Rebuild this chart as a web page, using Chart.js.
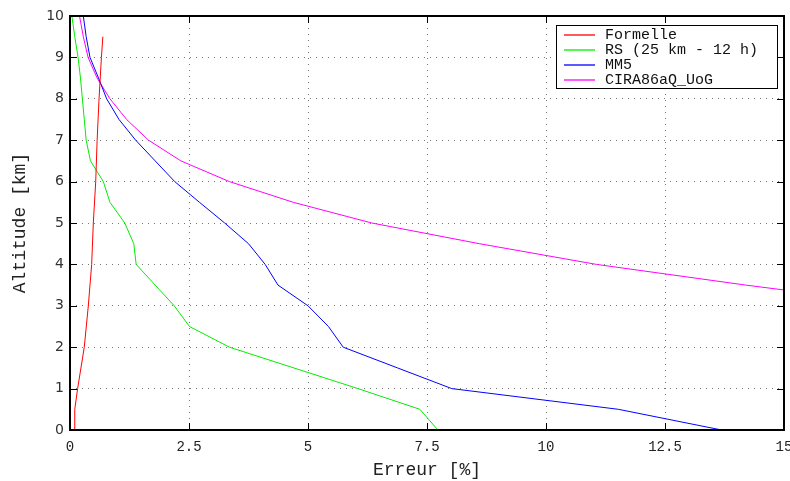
<!DOCTYPE html>
<html><head><meta charset="utf-8">
<script src="https://cdn.jsdelivr.net/npm/chart.js@4/dist/chart.umd.min.js"></script>
<style>html,body{margin:0;padding:0;background:#fff}canvas{display:block}</style>
</head><body>
<canvas id="c" width="790" height="481"></canvas>
<script>
// ---- data (error [%] vs altitude [km]) ----
const formelleAlt = [0, 0.5, 1, 2, 3, 4, 5, 6, 7, 8, 9, 9.5];
const formelleErr = [0.1, 0.1, 0.16, 0.3, 0.385, 0.455, 0.49, 0.54, 0.57, 0.61, 0.66, 0.69];

const rsAlt = [0, 0.5, 1, 2, 2.5, 3, 4, 4.5, 5, 5.5, 6, 6.5, 7, 7.5, 8, 8.5, 9, 9.5, 10];
const rsErr = [7.73, 7.35, 6.05, 3.35, 2.51, 2.19, 1.39, 1.34, 1.15, 0.84, 0.7, 0.43, 0.34, 0.30, 0.26, 0.22, 0.17, 0.1, 0.04];

const mm5Alt = [0, 0.5, 1, 1.5, 2, 2.5, 3, 3.5, 4, 4.5, 5, 5.5, 6, 6.5, 7, 7.5, 8, 8.5, 9, 9.5, 10];
const mm5Err = [13.69, 11.52, 8.02, 6.88, 5.74, 5.43, 5.0, 4.37, 4.1, 3.75, 3.25, 2.72, 2.2, 1.79, 1.38, 1.03, 0.77, 0.6, 0.42, 0.34, 0.28];

const ciraAlt = [3, 3.5, 4, 4.5, 5, 5.5, 6, 6.5, 7, 7.5, 8, 8.5, 9, 9.5, 10];
const ciraErr = [17.6, 14.2, 11.06, 8.6, 6.34, 4.69, 3.35, 2.33, 1.65, 1.19, 0.84, 0.57, 0.38, 0.28, 0.2];

const seriesLabels = ['Formelle', 'RS (25 km - 12 h)', 'MM5', 'CIRA86aQ_UoG'];
const seriesColors = ['#ff0000', '#00ee00', '#0000ff', '#ff00ff'];

const xTicks = [0, 2.5, 5, 7.5, 10, 12.5, 15];
const yTicks = [0, 1, 2, 3, 4, 5, 6, 7, 8, 9, 10];

function pts(errs, alts) { return errs.map((e, i) => ({x: e, y: alts[i]})); }
const allSeries = [[formelleErr, formelleAlt], [rsErr, rsAlt], [mm5Err, mm5Alt], [ciraErr, ciraAlt]];

const framePlugin = {
  id: 'frame',
  afterDatasetsDraw(chart) {
    const {ctx, chartArea: a, scales: {x, y}} = chart;
    ctx.save();
    ctx.setLineDash([]);
    ctx.strokeStyle = '#000';
    ctx.lineWidth = 1;
    ctx.beginPath();
    xTicks.forEach(v => {
      const px = Math.round(x.getPixelForValue(v)) + 0.5;
      ctx.moveTo(px, a.bottom); ctx.lineTo(px, a.bottom - 7);
      ctx.moveTo(px, a.top); ctx.lineTo(px, a.top + 7);
    });
    yTicks.forEach(v => {
      const py = Math.round(y.getPixelForValue(v)) + 0.5;
      ctx.moveTo(a.left, py); ctx.lineTo(a.left + 7, py);
      ctx.moveTo(a.right, py); ctx.lineTo(a.right - 7, py);
    });
    ctx.stroke();
    ctx.lineWidth = 2;
    ctx.strokeRect(a.left, a.top, a.right - a.left, a.bottom - a.top);

    // legend box
    const bx = 556.5, by = 25.5, bw = 221, bh = 63;
    ctx.fillStyle = '#fff';
    ctx.fillRect(bx, by, bw, bh);
    ctx.lineWidth = 1;
    ctx.strokeStyle = '#000';
    ctx.strokeRect(bx, by, bw, bh);
    ctx.font = '15px "Liberation Mono", monospace';
    ctx.textBaseline = 'middle';
    ctx.textAlign = 'left';
    for (let i = 0; i < seriesLabels.length; i++) {
      const ly = by + 9.5 + i * 15;
      ctx.lineWidth = 1.3;
      ctx.strokeStyle = seriesColors[i];
      ctx.beginPath();
      ctx.moveTo(564, ly);
      ctx.lineTo(595, ly);
      ctx.stroke();
      ctx.fillStyle = '#111';
      ctx.fillText(seriesLabels[i], 605, ly);
    }
    ctx.restore();
  }
};

new Chart(document.getElementById('c'), {
  type: 'scatter',
  data: {
    datasets: allSeries.map((s, i) => ({
      label: seriesLabels[i],
      data: pts(s[0], s[1]),
      showLine: true,
      borderColor: seriesColors[i],
      backgroundColor: seriesColors[i],
      borderWidth: 1,
      pointRadius: 0,
      tension: 0
    }))
  },
  options: {
    responsive: false,
    animation: false,
    layout: {padding: {top: 16, right: 6, left: 0, bottom: 0}},
    plugins: {legend: {display: false}, tooltip: {enabled: false}},
    scales: {
      x: {
        type: 'linear', min: 0, max: 15,
        afterFit: s => { s.height = 51; s.paddingLeft = 0; s.paddingRight = 0; },
        afterBuildTicks: s => { s.ticks = xTicks.map(v => ({value: v})); },
        ticks: {
          padding: 9, color: '#222', maxRotation: 0,
          font: {family: '"Liberation Mono", monospace', size: 14},
          callback: v => String(v)
        },
        grid: {color: '#777', drawTicks: false, lineWidth: 1},
        border: {display: false, dash: [1, 5]},
        title: {display: true, text: 'Erreur [%]', color: '#222',
          font: {family: '"Liberation Mono", monospace', size: 18}, padding: {top: 0, bottom: 0}}
      },
      y: {
        type: 'linear', min: 0, max: 10,
        afterFit: s => { s.width = 70; s.paddingTop = 0; s.paddingBottom = 0; },
        afterBuildTicks: s => { s.ticks = yTicks.map(v => ({value: v})); },
        ticks: {
          padding: 6, color: '#333',
          font: {family: '"DejaVu Sans", sans-serif', size: 14},
          callback: v => String(v)
        },
        grid: {color: '#777', drawTicks: false, lineWidth: 1},
        border: {display: false, dash: [1, 5]},
        title: {display: true, text: 'Altitude [km]', color: '#222',
          font: {family: '"Liberation Mono", monospace', size: 18}, padding: {top: 9, bottom: 0}}
      }
    }
  },
  plugins: [framePlugin]
});
</script>
</body></html>
